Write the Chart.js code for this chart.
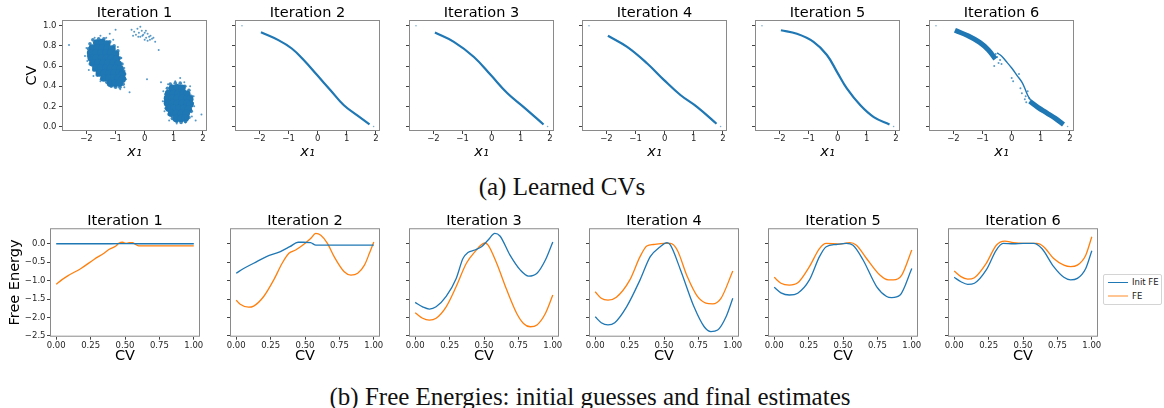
<!DOCTYPE html>
<html><head><meta charset="utf-8">
<script src="https://cdn.jsdelivr.net/npm/chart.js@4.4.0/dist/chart.umd.min.js"></script>
<style>
html,body{margin:0;padding:0;background:#fff;}
body{width:1164px;height:408px;position:relative;overflow:hidden;font-family:"DejaVu Sans",sans-serif;}
canvas{position:absolute;}
.cap{position:absolute;font-family:"Liberation Serif",serif;font-size:25px;line-height:25px;white-space:nowrap;color:#111;transform:translateX(-50%);}
#legend{position:absolute;left:1103px;top:274px;width:59px;height:31px;border:1px solid #d4d4d4;border-radius:2px;box-sizing:border-box;font-family:"DejaVu Sans",sans-serif;font-size:8.5px;color:#222;background:#fff;}
#legend .ln{position:absolute;left:4px;width:20px;height:0;}
#legend .tx{position:absolute;left:28px;line-height:10px;white-space:nowrap;}
</style></head><body>
<div class="cap" style="left:562px;top:174px;">(a) Learned CVs</div>
<div class="cap" style="left:590px;top:384px;">(b) Free Energies: initial guesses and final estimates</div>
<div id="legend">
  <div class="ln" style="top:7px;border-top:1.3px solid #1f77b4;"></div><div class="tx" style="top:2px;">Init FE</div>
  <div class="ln" style="top:20px;border-top:2.2px solid rgba(255,127,14,0.45);"></div><div class="tx" style="top:16px;">FE</div>
</div>
<script>
// ---------- labels / ticks ----------
const iterTitles = ['Iteration 1','Iteration 2','Iteration 3','Iteration 4','Iteration 5','Iteration 6'];
const x1Ticks = [-2,-1,0,1,2];
const cvTicks = [0,0.2,0.4,0.6,0.8,1.0];
const cvAxisTicks = [0,0.25,0.5,0.75,1.0];
const feTicks = [-2.5,-2,-1.5,-1,-0.5,0];
const seriesNames = ['Init FE','FE'];

// ---------- (a) learned CVs : iteration 1 scatter ----------
const it1CoreA = [
 [-1.65,0.83],[-1.47,0.835],[-1.30,0.82],
 [-1.80,0.78],[-1.62,0.78],[-1.45,0.78],[-1.28,0.78],[-1.12,0.77],
 [-1.86,0.73],[-1.68,0.73],[-1.50,0.73],[-1.33,0.73],[-1.16,0.73],[-1.00,0.72],
 [-1.84,0.68],[-1.66,0.68],[-1.48,0.68],[-1.31,0.68],[-1.14,0.68],[-0.97,0.67],
 [-1.78,0.63],[-1.60,0.63],[-1.42,0.63],[-1.25,0.63],[-1.08,0.63],[-0.91,0.62],
 [-1.68,0.58],[-1.51,0.58],[-1.34,0.58],[-1.17,0.58],[-1.00,0.58],[-0.84,0.57],
 [-1.56,0.53],[-1.39,0.53],[-1.22,0.53],[-1.05,0.53],[-0.88,0.53],[-0.77,0.52],
 [-1.40,0.48],[-1.23,0.48],[-1.06,0.48],[-0.90,0.48],[-0.77,0.47],
 [-1.18,0.43],[-1.02,0.43],[-0.87,0.43]
];
const it1CoreB = [
 [0.95,0.38],[1.12,0.385],[1.28,0.38],
 [0.82,0.33],[0.99,0.33],[1.16,0.33],[1.33,0.33],[1.45,0.32],
 [0.78,0.28],[0.95,0.28],[1.12,0.28],[1.29,0.28],[1.46,0.28],[1.55,0.27],
 [0.78,0.23],[0.95,0.23],[1.12,0.23],[1.29,0.23],[1.46,0.23],[1.56,0.22],
 [0.83,0.18],[1.00,0.18],[1.17,0.18],[1.34,0.18],[1.50,0.17],
 [0.92,0.13],[1.09,0.13],[1.26,0.13],[1.43,0.13],
 [1.08,0.08],[1.25,0.08],[1.40,0.085]
];
const it1FringeA = [
 [-1.78,0.86],[-1.58,0.87],[-1.40,0.87],[-1.20,0.84],[-1.05,0.80],[-0.92,0.75],[-0.85,0.68],[-0.78,0.62],
 [-0.72,0.55],[-0.70,0.48],[-0.74,0.42],[-0.85,0.39],[-1.00,0.39],[-1.15,0.40],[-1.30,0.44],[-1.48,0.47],
 [-1.63,0.51],[-1.75,0.56],[-1.87,0.62],[-1.93,0.70],[-1.93,0.77],[-1.88,0.82]
];
const it1FringeB = [
 [0.88,0.42],[1.05,0.43],[1.22,0.43],[1.38,0.40],[1.52,0.36],[1.60,0.30],[1.63,0.23],[1.60,0.15],
 [1.52,0.09],[1.40,0.05],[1.25,0.04],[1.10,0.05],[0.95,0.08],[0.84,0.12],[0.74,0.18],[0.71,0.25],[0.73,0.32],[0.78,0.38]
];
const it1Sparse = [
 [-2.0,0.78],[-1.97,0.65],[-1.92,0.56],[-1.72,0.88],[-1.52,0.90],[-1.32,0.88],[-1.08,0.86],[-0.92,0.79],
 [-0.80,0.68],[-0.70,0.58],[-0.64,0.47],[-0.70,0.39],[-0.84,0.37],[-1.00,0.40],[-1.52,0.45],[-1.76,0.50],
 [-2.05,0.70],[-1.20,0.92],[-0.66,0.52],[-2.6,0.81],[-0.52,0.34],[-1.0,0.96],[0.08,0.47],[0.48,0.76],
 [-0.45,0.96],[-0.36,0.94],[-0.30,0.91],[-0.25,0.97],[-0.20,0.93],[-0.15,0.89],[-0.10,0.95],[-0.05,0.91],
 [0.0,0.93],[0.05,0.88],[0.10,0.92],[0.15,0.89],[0.20,0.90],[0.25,0.87],[0.30,0.88],[-0.40,0.90],
 [0.0,0.86],[0.36,0.84],[-0.15,0.99],[0.10,0.85],[-0.22,0.89],[-0.08,0.90],[0.04,0.95],[0.18,0.86],
 [0.64,0.35],[0.62,0.25],[0.68,0.15],[0.84,0.06],[1.10,0.03],[1.40,0.04],[1.62,0.10],[1.70,0.20],
 [1.68,0.30],[1.56,0.40],[1.36,0.44],[1.05,0.45],[0.80,0.42],[1.95,0.12],[0.56,0.44],[1.22,0.48],[1.75,0.06]
];
// ---------- iterations 2-6 curves ----------
const it2Curve = [[-1.95,0.935],[-1.35,0.857],[-0.89,0.774],[-0.48,0.66],[-0.02,0.51],[0.44,0.36],[0.9,0.21],[1.36,0.11],[1.78,0.02]];
const it3Curve = [[-1.95,0.932],[-1.30,0.84],[-0.61,0.69],[-0.03,0.51],[0.54,0.33],[1.11,0.19],[1.78,0.02]];
const it4Curve = [[-1.95,0.90],[-1.29,0.79],[-0.60,0.625],[-0.02,0.46],[0.55,0.31],[1.13,0.19],[1.78,0.027]];
const it5Curve = [[-1.95,0.955],[-1.40,0.92],[-0.83,0.84],[-0.37,0.71],[-0.02,0.54],[0.32,0.375],[0.78,0.21],[1.24,0.093],[1.78,0.02]];
const it6BandA = [[-1.95,0.955],[-1.5,0.90],[-1.1,0.835],[-0.8,0.76],[-0.56,0.67]];
const it6Mid = [[-0.5,0.73],[-0.35,0.70],[-0.2,0.65],[0.0,0.58],[0.2,0.50],[0.35,0.44],[0.45,0.38],[0.55,0.31],[0.65,0.26]];
const it6BandB = [[0.62,0.25],[0.9,0.19],[1.2,0.135],[1.5,0.08],[1.78,0.02]];
const it6Sparse = [[-0.55,0.72],[-0.5,0.69],[-0.45,0.63],[-0.6,0.6],[-0.4,0.66],[-0.35,0.62],[0.0,0.48],[0.05,0.45],
 [0.3,0.38],[0.35,0.33],[0.48,0.30],[0.55,0.35],[0.45,0.27],[0.6,0.28],[0.5,0.24],[0.25,0.52]];
const strayPoints = [[-2.6,1.0],[1.92,0.0]];

// ---------- (b) free energies ----------
const fe1Init = [[0,0.0],[0.2,0.0],[0.4,0.0],[0.5,0.005],[0.6,0.0],[0.8,0.0],[1.0,0.0]];
const fe1 = [[0,-1.10],[0.04,-0.98],[0.084,-0.87],[0.18,-0.67],[0.277,-0.42],[0.35,-0.25],[0.386,-0.15],[0.434,-0.06],[0.458,0.02],[0.482,0.04],[0.506,0.01],[0.53,0.03],[0.554,0.03],[0.578,-0.02],[0.60,-0.06],[0.8,-0.06],[1.0,-0.06]];
const fe2Init = [[0,-0.80],[0.054,-0.67],[0.127,-0.53],[0.22,-0.35],[0.317,-0.22],[0.39,-0.08],[0.45,0.04],[0.49,0.04],[0.54,0.03],[0.58,-0.04],[0.8,-0.04],[1.0,-0.04]];
const fe2 = [[0,-1.53],[0.029,-1.64],[0.09,-1.72],[0.127,-1.69],[0.20,-1.43],[0.273,-0.98],[0.334,-0.53],[0.383,-0.26],[0.432,-0.17],[0.48,-0.05],[0.541,0.14],[0.578,0.28],[0.615,0.23],[0.663,0.01],[0.712,-0.35],[0.785,-0.76],[0.834,-0.85],[0.883,-0.80],[0.932,-0.58],[0.968,-0.26],[1.0,0.05]];
const fe3Init = [[0,-1.59],[0.054,-1.71],[0.103,-1.77],[0.152,-1.71],[0.225,-1.43],[0.298,-0.94],[0.347,-0.40],[0.383,-0.24],[0.433,-0.17],[0.482,-0.08],[0.53,0.10],[0.579,0.28],[0.616,0.21],[0.689,-0.31],[0.763,-0.71],[0.824,-0.88],[0.885,-0.80],[0.946,-0.44],[1.0,0.05]];
const fe3 = [[0,-1.87],[0.054,-2.02],[0.103,-2.07],[0.152,-2.02],[0.225,-1.71],[0.298,-1.16],[0.372,-0.53],[0.433,-0.22],[0.506,0.02],[0.53,-0.04],[0.592,-0.53],[0.665,-1.25],[0.738,-1.89],[0.787,-2.16],[0.836,-2.25],[0.885,-2.20],[0.946,-1.89],[1.0,-1.39]];
const fe4Init = [[0,-1.98],[0.044,-2.14],[0.093,-2.20],[0.142,-2.14],[0.228,-1.71],[0.326,-0.98],[0.40,-0.35],[0.473,-0.08],[0.522,0.03],[0.547,-0.04],[0.62,-0.71],[0.718,-1.71],[0.792,-2.25],[0.841,-2.38],[0.89,-2.34],[0.951,-1.98],[1.0,-1.48]];
const fe4 = [[0,-1.30],[0.044,-1.48],[0.093,-1.53],[0.154,-1.45],[0.252,-0.98],[0.326,-0.35],[0.375,-0.06],[0.424,-0.02],[0.498,0.01],[0.547,0.01],[0.596,-0.17],[0.669,-0.89],[0.743,-1.43],[0.804,-1.61],[0.853,-1.63],[0.914,-1.48],[1.0,-0.74]];
const fe5Init = [[0,-1.18],[0.049,-1.33],[0.11,-1.39],[0.171,-1.34],[0.256,-0.98],[0.329,-0.35],[0.378,-0.08],[0.451,-0.02],[0.524,0.01],[0.573,-0.04],[0.646,-0.44],[0.744,-1.16],[0.817,-1.43],[0.854,-1.46],[0.915,-1.39],[1.0,-0.67]];
const fe5 = [[0,-0.91],[0.049,-1.07],[0.11,-1.12],[0.171,-1.06],[0.256,-0.62],[0.329,-0.13],[0.378,0.01],[0.476,-0.01],[0.549,0.03],[0.598,-0.04],[0.671,-0.40],[0.768,-0.85],[0.829,-0.98],[0.866,-0.98],[0.927,-0.85],[1.0,-0.17]];
const fe6Init = [[0,-0.91],[0.049,-1.03],[0.098,-1.10],[0.147,-1.07],[0.233,-0.71],[0.306,-0.17],[0.355,0.01],[0.429,0.0],[0.502,0.01],[0.576,0.01],[0.637,-0.13],[0.723,-0.62],[0.797,-0.91],[0.846,-0.98],[0.895,-0.94],[0.956,-0.67],[1.0,-0.19]];
const fe6 = [[0,-0.74],[0.049,-0.89],[0.098,-0.96],[0.147,-0.92],[0.233,-0.53],[0.306,-0.04],[0.368,0.07],[0.429,0.03],[0.502,0.01],[0.60,0.01],[0.65,-0.08],[0.723,-0.40],[0.797,-0.58],[0.846,-0.62],[0.895,-0.58],[0.956,-0.31],[1.0,0.19]];
const feInitSeries = [fe1Init,fe2Init,fe3Init,fe4Init,fe5Init,fe6Init];
const feSeries = [fe1,fe2,fe3,fe4,fe5,fe6];

// ---------- helpers ----------
const BLUE = '#1f77b4', ORANGE = '#ff7f0e';
const FONT = "'DejaVu Sans', sans-serif";
const pts = a => a.map(([x,y]) => ({x, y}));
const minus = s => s.replace('-', '\u2212');

const frame = {id:'frame', afterDatasetsDraw(chart){
  const {ctx, chartArea:{left, top, right, bottom}} = chart;
  ctx.save(); ctx.strokeStyle = '#8a8a8a'; ctx.lineWidth = 1;
  ctx.strokeRect(left + 0.5, top + 0.5, right - left - 1, bottom - top - 1);
  ctx.restore();
}};

function mkCanvas(left, top, w, h){
  const c = document.createElement('canvas');
  c.width = w; c.height = h;
  c.style.left = left + 'px'; c.style.top = top + 'px';
  c.style.width = w + 'px'; c.style.height = h + 'px';
  document.body.appendChild(c);
  return c;
}

function dotSet(arr, r, color){
  return {data: pts(arr), pointRadius: r, pointBackgroundColor: color, pointBorderWidth: 0, showLine: false};
}
function curveSet(arr, w){
  return {data: pts(arr), showLine: true, pointRadius: 0, borderColor: BLUE, borderWidth: w, tension: 0.4, fill: false};
}

const topSets = [
  [dotSet(it1Sparse, 1.0, 'rgba(31,119,180,0.75)'), dotSet(it1FringeA, 1.8, 'rgba(31,119,180,0.85)'), dotSet(it1FringeB, 1.8, 'rgba(31,119,180,0.85)'),
   dotSet(it1CoreA, 3.7, BLUE), dotSet(it1CoreB, 3.7, BLUE)],
  [curveSet(it2Curve, 2.2), dotSet(strayPoints, 0.8, 'rgba(31,119,180,0.6)')],
  [curveSet(it3Curve, 2.2), dotSet(strayPoints, 0.8, 'rgba(31,119,180,0.6)')],
  [curveSet(it4Curve, 2.2), dotSet(strayPoints, 0.8, 'rgba(31,119,180,0.6)')],
  [curveSet(it5Curve, 2.2), dotSet(strayPoints, 0.8, 'rgba(31,119,180,0.6)')],
  [curveSet(it6BandA, 5), curveSet(it6Mid, 1.4), curveSet(it6BandB, 5), dotSet(it6Sparse, 1.0, 'rgba(31,119,180,0.75)'), dotSet(strayPoints, 0.8, 'rgba(31,119,180,0.6)')]
];

function axisCommon(){
  return {
    type: 'linear',
    grid: {drawOnChartArea: false, tickLength: 3, color: '#444', lineWidth: 1},
    border: {display: false},
  };
}

// ---------- top row ----------
for (let i = 0; i < 6; i++) {
  const boxL = Math.round(62 + 173.3 * i), boxW = 145, padR = 12;
  const yW = i === 0 ? 62 : 8;
  const c = mkCanvas(boxL - yW, 0, yW + boxW + padR, 165);
  new Chart(c, {
    type: 'scatter',
    data: {datasets: topSets[i]},
    options: {
      responsive: false, animation: false, devicePixelRatio: 1,
      layout: {padding: {left: 0, right: padR, top: 0, bottom: 0}},
      plugins: {
        legend: {display: false}, tooltip: {enabled: false},
        title: {display: true, fullSize: false, text: iterTitles[i], color: '#000', font: {family: FONT, size: 14.5, weight: 'normal', lineHeight: 1}, padding: {top: 5.5, bottom: 0}}
      },
      scales: {
        x: Object.assign(axisCommon(), {
          min: -2.84, max: 2.14,
          afterBuildTicks: s => { s.ticks = x1Ticks.map(v => ({value: v})); },
          afterFit: s => { s.height = 34; },
          ticks: {autoSkip: false, maxRotation: 0, padding: 1, color: '#262626', font: {family: FONT, size: 8.5, lineHeight: 1}, callback: v => minus(String(v))},
          title: {display: true, text: 'x\u2081', color: '#000', font: {family: FONT, size: 14.5, style: 'italic', lineHeight: 1.2}, padding: {top: 0, bottom: 3.8}}
        }),
        y: Object.assign(axisCommon(), {
          min: -0.045, max: 1.057,
          afterBuildTicks: s => { s.ticks = cvTicks.map(v => ({value: v})); },
          afterFit: s => { s.width = yW; },
          ticks: {display: i === 0, padding: 2.5, color: '#262626', font: {family: FONT, size: 8.5, lineHeight: 1}, callback: v => v.toFixed(1)},
          title: {display: i === 0, text: 'CV', color: '#000', font: {family: FONT, size: 14.5, lineHeight: 1.2}, padding: {top: 23.3, bottom: 0}}
        })
      }
    },
    plugins: [frame]
  });
}

// ---------- bottom row ----------
for (let i = 0; i < 6; i++) {
  const boxL = Math.round(50 + 179.6 * i), boxW = 150, padR = 12;
  const yW = i === 0 ? 50 : 8;
  const c = mkCanvas(boxL - yW, 205, yW + boxW + padR, 165);
  new Chart(c, {
    type: 'scatter',
    data: {datasets: [
      {label: seriesNames[0], data: pts(feInitSeries[i]), showLine: true, pointRadius: 0, borderColor: BLUE, borderWidth: 1.3, cubicInterpolationMode: 'monotone', fill: false},
      {label: seriesNames[1], data: pts(feSeries[i]), showLine: true, pointRadius: 0, borderColor: ORANGE, borderWidth: 1.3, cubicInterpolationMode: 'monotone', fill: false}
    ]},
    options: {
      responsive: false, animation: false, devicePixelRatio: 1,
      layout: {padding: {left: 0, right: padR, top: 0, bottom: 0}},
      plugins: {
        legend: {display: false}, tooltip: {enabled: false},
        title: {display: true, fullSize: false, text: iterTitles[i], color: '#000', font: {family: FONT, size: 14.5, weight: 'normal', lineHeight: 1}, padding: {top: 8.75, bottom: 0}}
      },
      scales: {
        x: Object.assign(axisCommon(), {
          min: -0.045, max: 1.045,
          afterBuildTicks: s => { s.ticks = cvAxisTicks.map(v => ({value: v})); },
          afterFit: s => { s.height = 33.3; },
          ticks: {autoSkip: false, maxRotation: 0, padding: 1.5, color: '#262626', font: {family: FONT, size: 8.5, lineHeight: 1}, callback: v => v.toFixed(2)},
          title: {display: true, text: 'CV', color: '#000', font: {family: FONT, size: 14.5, lineHeight: 1.2}, padding: {top: 0, bottom: 4.6}}
        }),
        y: Object.assign(axisCommon(), {
          min: -2.52, max: 0.42,
          afterBuildTicks: s => { s.ticks = feTicks.map(v => ({value: v})); },
          afterFit: s => { s.width = yW; },
          ticks: {display: i === 0, padding: 1.5, color: '#262626', font: {family: FONT, size: 8.5, lineHeight: 1}, callback: v => minus(v.toFixed(1))},
          title: {display: i === 0, text: 'Free Energy', color: '#000', font: {family: FONT, size: 14.5, lineHeight: 1.2}, padding: {top: 6.3, bottom: 0}}
        })
      }
    },
    plugins: [frame]
  });
}
</script>
</body></html>
